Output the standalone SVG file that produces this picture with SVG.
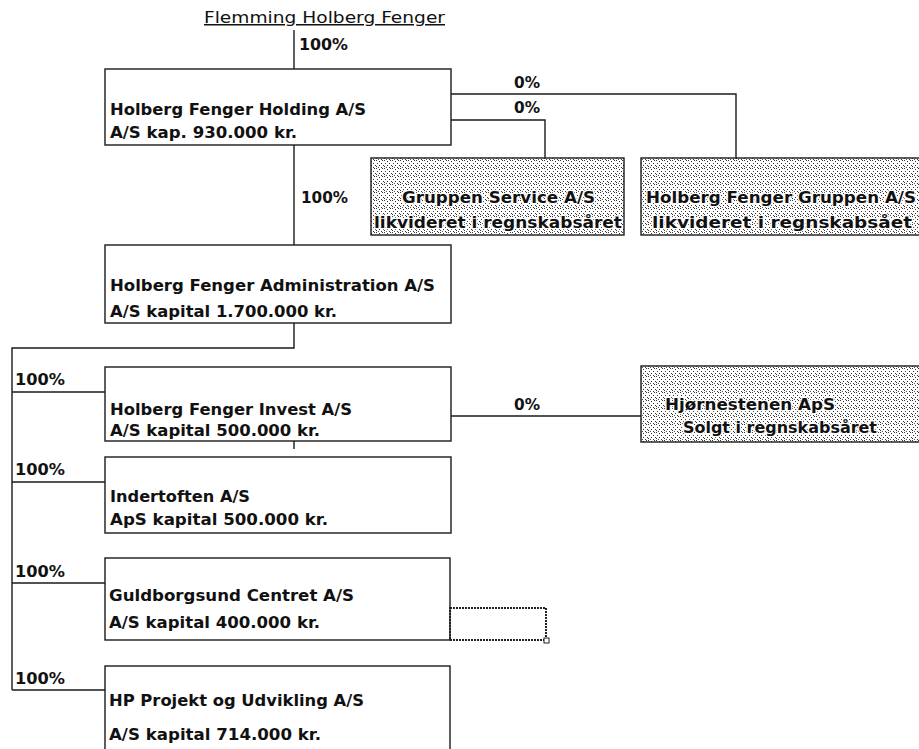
<svg xmlns="http://www.w3.org/2000/svg" width="919" height="749" viewBox="0 0 919 749">
<defs>
<pattern id="dots" width="8" height="8" patternUnits="userSpaceOnUse">
<rect width="8" height="8" fill="#ffffff"/>
<rect x="0" y="0" width="1" height="1" fill="#333"/>
<rect x="3" y="1" width="1" height="1" fill="#333"/>
<rect x="6" y="0" width="1" height="1" fill="#333"/>
<rect x="1" y="3" width="1" height="1" fill="#333"/>
<rect x="5" y="3" width="1" height="1" fill="#333"/>
<rect x="3" y="5" width="1" height="1" fill="#333"/>
<rect x="7" y="5" width="1" height="1" fill="#333"/>
<rect x="0" y="6" width="1" height="1" fill="#333"/>
<rect x="5" y="7" width="1" height="1" fill="#333"/>
<rect x="2" y="7" width="1" height="1" fill="#555"/>
</pattern>
</defs>
<style>
.box{fill:#ffffff;stroke:#1a1a1a;stroke-width:1.4}
.gray{fill:url(#dots);stroke:#1a1a1a;stroke-width:1.4}
.ln{fill:none;stroke:#1a1a1a;stroke-width:1.4}
text{font-family:"DejaVu Sans","Liberation Sans",sans-serif;font-size:16px;fill:#111}
.t{font-weight:bold}
.title{font-size:15px;font-weight:normal;text-decoration:underline}
.g{font-weight:bold;stroke:#ffffff;stroke-width:2.5;paint-order:stroke;stroke-linejoin:round}
</style>
<rect width="919" height="749" fill="#ffffff"/>
<g id="connectors">
<path class="ln" d="M294,30V69"/>
<path class="ln" d="M451,94H736V158"/>
<path class="ln" d="M451,120H545V158"/>
<path class="ln" d="M294,145V245"/>
<path class="ln" d="M294,323V348H12V690"/>
<path class="ln" d="M12,392H105"/>
<path class="ln" d="M12,482H105"/>
<path class="ln" d="M12,583H105"/>
<path class="ln" d="M12,690H105"/>
<path class="ln" d="M451,416H641"/>
<path class="ln" d="M294,441V449"/>
<text class="t" x="299" y="50" textLength="49" lengthAdjust="spacingAndGlyphs">100%</text>
<text class="t" x="514" y="88" textLength="26" lengthAdjust="spacingAndGlyphs">0%</text>
<text class="t" x="514" y="113" textLength="26" lengthAdjust="spacingAndGlyphs">0%</text>
<text class="t" x="301" y="203" textLength="47" lengthAdjust="spacingAndGlyphs">100%</text>
<text class="t" x="514" y="410" textLength="26" lengthAdjust="spacingAndGlyphs">0%</text>
<text class="t" x="15" y="385" textLength="50" lengthAdjust="spacingAndGlyphs">100%</text>
<text class="t" x="15" y="475" textLength="50" lengthAdjust="spacingAndGlyphs">100%</text>
<text class="t" x="15" y="577" textLength="50" lengthAdjust="spacingAndGlyphs">100%</text>
<text class="t" x="15" y="684" textLength="50" lengthAdjust="spacingAndGlyphs">100%</text>
</g>
<g id="owner">
<text class="title" x="204" y="23" textLength="241" lengthAdjust="spacingAndGlyphs">Flemming Holberg Fenger</text>
</g>
<g id="holding">
<rect class="box" x="105" y="69" width="346" height="76"/>
<text class="t" x="110" y="115" textLength="256" lengthAdjust="spacingAndGlyphs">Holberg Fenger Holding A/S</text>
<text class="t" x="110" y="138" textLength="187" lengthAdjust="spacingAndGlyphs">A/S kap. 930.000 kr.</text>
</g>
<g id="gruppen-service">
<rect class="gray" x="371" y="158" width="253" height="77"/>
<text class="g" x="402" y="203" textLength="193" lengthAdjust="spacingAndGlyphs">Gruppen Service A/S</text>
<text class="g" x="374" y="228" textLength="248" lengthAdjust="spacingAndGlyphs">likvideret i regnskabsåret</text>
</g>
<g id="gruppen">
<rect class="gray" x="641" y="158" width="290" height="77"/>
<text class="g" x="646" y="203" textLength="270" lengthAdjust="spacingAndGlyphs">Holberg Fenger Gruppen A/S</text>
<text class="g" x="652" y="228" textLength="260" lengthAdjust="spacingAndGlyphs">likvideret i regnskabsået</text>
</g>
<g id="administration">
<rect class="box" x="105" y="245" width="346" height="78"/>
<text class="t" x="110" y="291" textLength="325" lengthAdjust="spacingAndGlyphs">Holberg Fenger Administration A/S</text>
<text class="t" x="110" y="317" textLength="227" lengthAdjust="spacingAndGlyphs">A/S kapital 1.700.000 kr.</text>
</g>
<g id="invest">
<rect class="box" x="105" y="367" width="346" height="74"/>
<text class="t" x="110" y="415" textLength="242" lengthAdjust="spacingAndGlyphs">Holberg Fenger Invest A/S</text>
<text class="t" x="110" y="436" textLength="210" lengthAdjust="spacingAndGlyphs">A/S kapital 500.000 kr.</text>
</g>
<g id="hjornestenen">
<rect class="gray" x="641" y="366" width="290" height="76"/>
<text class="g" x="665" y="410" textLength="170" lengthAdjust="spacingAndGlyphs">Hjørnestenen ApS</text>
<text class="g" x="683" y="433" textLength="194" lengthAdjust="spacingAndGlyphs">Solgt i regnskabsåret</text>
</g>
<g id="indertoften">
<rect class="box" x="105" y="457" width="346" height="76"/>
<text class="t" x="110" y="502" textLength="140" lengthAdjust="spacingAndGlyphs">Indertoften A/S</text>
<text class="t" x="110" y="525" textLength="218" lengthAdjust="spacingAndGlyphs">ApS kapital 500.000 kr.</text>
</g>
<g id="guldborgsund">
<rect class="box" x="105" y="558" width="345" height="82"/>
<text class="t" x="109" y="601" textLength="245" lengthAdjust="spacingAndGlyphs">Guldborgsund Centret A/S</text>
<text class="t" x="109" y="628" textLength="211" lengthAdjust="spacingAndGlyphs">A/S kapital 400.000 kr.</text>
</g>
<g id="selection">
<rect x="450" y="608" width="96" height="32" fill="none" stroke="#222" stroke-width="2" stroke-dasharray="2 1"/>
<rect x="544" y="638" width="5" height="5" fill="#fff" stroke="#222" stroke-width="1"/>
</g>
<g id="hp-projekt">
<rect class="box" x="105" y="666" width="345" height="100"/>
<text class="t" x="109" y="706" textLength="255" lengthAdjust="spacingAndGlyphs">HP Projekt og Udvikling A/S</text>
<text class="t" x="109" y="740" textLength="212" lengthAdjust="spacingAndGlyphs">A/S kapital 714.000 kr.</text>
</g>
</svg>
